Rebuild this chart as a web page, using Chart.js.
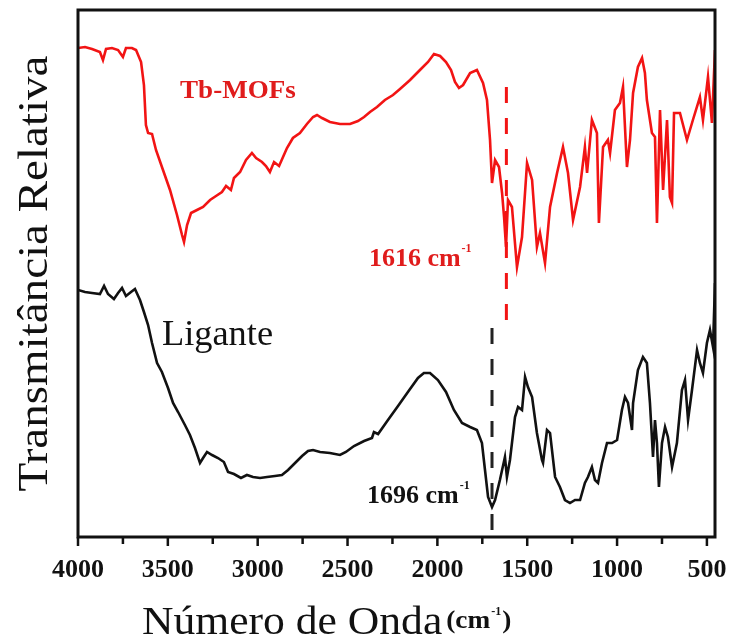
<!DOCTYPE html>
<html>
<head>
<meta charset="utf-8">
<script src="https://cdn.jsdelivr.net/npm/chart.js@4.4.0/dist/chart.umd.min.js"></script>
<style>
  html, body { margin: 0; padding: 0; background: #fff; }
  #spectra { display: block; }
</style>
</head>
<body>
<canvas id="spectra" width="729" height="642"></canvas>
<script>
// FTIR spectra: wavenumber (cm-1) vs relative transmittance (arbitrary units)
const mofWavenumber = [4000, 3961, 3922, 3878, 3861, 3844, 3811, 3777, 3750, 3733, 3700, 3677, 3649, 3633, 3622, 3610,
  3588, 3566, 3527, 3488, 3449, 3421, 3410, 3393, 3371, 3338, 3304, 3265, 3232, 3199, 3176, 3149, 3132, 3098, 3065,
  3032, 3009, 2976, 2954, 2932, 2909, 2881, 2859, 2837, 2804, 2765, 2726, 2692, 2670, 2642, 2598, 2542, 2486, 2442,
  2408, 2375, 2336, 2292, 2247, 2208, 2152, 2097, 2052, 2019, 1985, 1952, 1924, 1902, 1880, 1857, 1818, 1780, 1746,
  1724, 1707, 1696, 1679, 1657, 1640, 1629, 1618, 1607, 1585, 1557, 1529, 1501, 1473, 1446, 1429, 1401, 1373, 1334,
  1301, 1273, 1245, 1206, 1179, 1167, 1140, 1112, 1101, 1078, 1051, 1039, 1012, 984, 967, 945, 928, 911, 884, 861,
  845, 834, 806, 789, 778, 761, 744, 722, 706, 694, 683, 650, 611, 578, 539, 522, 494, 472, 455];
const mofTransmittance = [97.8, 98.0, 97.6, 97.0, 95.4, 97.6, 97.8, 97.4, 96.0, 97.8, 97.8, 97.4, 95.0, 90.4, 82.4, 80.8,
  80.6, 77.4, 73.4, 69.4, 64.4, 60.4, 59.0, 62.4, 64.8, 65.4, 66.0, 67.4, 68.2, 69.0, 70.2, 69.4, 71.8, 73.0, 75.4,
  76.8, 75.8, 75.0, 74.2, 73.0, 75.0, 74.2, 76.0, 77.8, 79.8, 80.8, 82.6, 84.0, 84.4, 83.8, 83.0, 82.6, 82.6, 83.2,
  84.0, 85.0, 86.0, 87.4, 88.4, 89.6, 91.4, 93.4, 95.0, 96.6, 96.2, 95.0, 93.4, 91.0, 89.8, 90.4, 92.8, 93.4, 90.8,
  87.4, 79.4, 70.8, 75.4, 74.0, 68.8, 64.0, 58.0, 67.4, 66.0, 54.0, 60.0, 74.8, 71.4, 58.0, 60.8, 54.8, 66.0, 72.8,
  78.0, 72.8, 63.4, 70.0, 78.0, 72.8, 83.4, 80.8, 62.8, 78.0, 79.4, 76.8, 85.4, 86.8, 90.0, 74.0, 79.4, 88.8, 94.0, 95.8,
  92.8, 87.4, 80.8, 80.0, 62.8, 85.4, 69.4, 83.4, 68.0, 66.8, 84.8, 84.8, 79.4, 83.4, 88.0, 83.4, 92.0, 82.8, 97.4];

const ligandWavenumber = [4000, 3961, 3922, 3878, 3855, 3833, 3800, 3777, 3755, 3733, 3705, 3683, 3655, 3633, 3610,
  3588, 3560, 3533, 3499, 3471, 3443, 3405, 3377, 3349, 3321, 3304, 3282, 3254, 3221, 3188, 3165, 3132, 3093, 3060,
  3026, 2987, 2948, 2904, 2865, 2831, 2792, 2753, 2720, 2692, 2653, 2598, 2542, 2509, 2464, 2408, 2364, 2353, 2330,
  2275, 2219, 2164, 2108, 2075, 2041, 1997, 1952, 1908, 1863, 1818, 1780, 1752, 1735, 1718, 1696, 1679, 1652, 1624,
  1613, 1596, 1568, 1551, 1529, 1512, 1496, 1473, 1446, 1418, 1412, 1390, 1373, 1345, 1318, 1290, 1262, 1234, 1206,
  1179, 1162, 1140, 1123, 1106, 1084, 1056, 1028, 1000, 973, 956, 939, 917, 911, 884, 856, 834, 817, 800, 789, 778,
  767, 750, 733, 717, 694, 667, 639, 622, 605, 583, 555, 539, 522, 500, 483, 466, 455];
const ligandTransmittance = [49.4, 49.0, 48.8, 48.6, 50.2, 48.6, 47.6, 48.8, 49.8, 48.2, 49.0, 49.6, 47.4, 45.0, 42.4,
  38.8, 34.8, 33.0, 29.8, 26.8, 25.0, 22.4, 20.4, 17.8, 14.8, 15.8, 17.0, 16.4, 15.8, 15.0, 13.0, 12.6, 11.8, 12.4,
  12.0, 11.8, 12.0, 12.2, 12.4, 13.4, 14.8, 16.2, 17.2, 17.4, 17.0, 16.8, 16.4, 17.0, 18.2, 19.2, 19.8, 21.0, 20.6,
  23.4, 26.2, 29.0, 31.8, 32.8, 32.8, 31.4, 29.0, 25.4, 22.8, 22.0, 21.4, 18.8, 13.4, 8.0, 6.0, 7.4, 11.4, 16.0,
  12.0, 15.4, 24.0, 26.0, 25.4, 32.0, 30.0, 28.0, 20.8, 15.4, 14.8, 21.4, 20.8, 12.0, 10.0, 7.4, 6.8, 7.4, 7.4,
  10.8, 12.0, 14.0, 11.4, 10.8, 14.8, 18.8, 18.8, 19.4, 25.4, 28.0, 26.8, 21.4, 26.8, 33.4, 36.0, 34.8, 26.8, 16.0,
  23.4, 18.8, 10.0, 18.8, 22.0, 20.0, 14.0, 18.8, 29.4, 31.4, 23.4, 29.4, 37.4, 34.8, 32.8, 38.8, 41.4, 38.0, 50.8];

const xTickValues = [4000, 3500, 3000, 2500, 2000, 1500, 1000, 500];
const xMinorTicks = [3750, 3250, 2750, 2250, 1750, 1250, 750];

// marked bands and the span of their dashed guides
const mofBand = 1616;
const mofBandSpan = [43.4, 91.4];
const ligandBand = 1696;
const ligandBandSpan = [1.4, 42.0];

const RED = '#f21414';
const INK = '#111111';
const SERIF = '"Liberation Serif", "Times New Roman", serif';

function toPoints(xs, ys) {
  return xs.map((x, i) => ({ x: x, y: ys[i] }));
}

// text labels placed at (wavenumber, transmittance)
const notes = [
  { text: 'Tb-MOFs', x: 3432, y: 87.8, font: 'bold 26px ' + SERIF, color: '#e01c1c' },
  { text: mofBand + ' cm', sup: '-1', x: 2381, y: 54.2, font: 'bold 25px ' + SERIF, color: '#e01c1c' },
  { text: 'Ligante', x: 3533, y: 38.4, font: '35px ' + SERIF, color: INK },
  { text: ligandBand + ' cm', sup: '-1', x: 2392, y: 6.8, font: 'bold 25px ' + SERIF, color: INK }
];

function putText(ctx, text, x, y, font, color, sx) {
  ctx.save();
  ctx.font = font;
  ctx.fillStyle = color;
  ctx.textAlign = 'left';
  ctx.textBaseline = 'alphabetic';
  ctx.translate(x, y);
  ctx.scale(sx, 1);
  ctx.fillText(text, 0, 0);
  const w = ctx.measureText(text).width * sx;
  ctx.restore();
  return w;
}

const framePlugin = {
  id: 'frame',
  afterDraw(chart) {
    const ctx = chart.ctx;
    const a = chart.chartArea;
    const xs = chart.scales.x;
    const ys = chart.scales.y;

    ctx.save();
    ctx.strokeStyle = INK;
    ctx.lineWidth = 3;
    ctx.strokeRect(a.left, a.top, a.right - a.left, a.bottom - a.top);

    ctx.lineWidth = 2.5;
    ctx.beginPath();
    xTickValues.forEach(v => {
      const px = xs.getPixelForValue(v);
      ctx.moveTo(px, a.bottom);
      ctx.lineTo(px, a.bottom + 9);
    });
    xMinorTicks.forEach(v => {
      const px = xs.getPixelForValue(v);
      ctx.moveTo(px, a.bottom);
      ctx.lineTo(px, a.bottom + 7);
    });
    ctx.stroke();
    ctx.restore();

    // annotations
    notes.forEach(n => {
      const px = xs.getPixelForValue(n.x);
      const py = ys.getPixelForValue(n.y);
      const w = putText(ctx, n.text, px, py, n.font, n.color, 1.04);
      if (n.sup) putText(ctx, n.sup, px + w + 1, py - 14, 'bold 12px ' + SERIF, n.color, 1);
    });

    // x axis title
    const tx = a.left + 64;
    const ty = 634;
    let w = putText(ctx, 'Número de Onda', tx, ty, '40px ' + SERIF, INK, 1.09);
    w += putText(ctx, '(cm', tx + w + 4, ty - 6, 'bold 26px ' + SERIF, INK, 1.05);
    const sw = putText(ctx, '-1', tx + w + 5, ty - 19, 'bold 12px ' + SERIF, INK, 1);
    putText(ctx, ')', tx + w + 6 + sw, ty - 6, 'bold 26px ' + SERIF, INK, 1.05);

    // y axis title
    ctx.save();
    ctx.font = '42px ' + SERIF;
    ctx.fillStyle = INK;
    ctx.textAlign = 'center';
    ctx.textBaseline = 'alphabetic';
    ctx.translate(a.left - 31, (a.top + a.bottom) / 2);
    ctx.rotate(-Math.PI / 2);
    ctx.scale(1.12, 1);
    ctx.fillText('Transmitância Relativa', 0, 0);
    ctx.restore();
  }
};

new Chart(document.getElementById('spectra'), {
  type: 'line',
  data: {
    datasets: [
      { data: toPoints(mofWavenumber, mofTransmittance), borderColor: RED, borderWidth: 2.6 },
      { data: toPoints(ligandWavenumber, ligandTransmittance), borderColor: INK, borderWidth: 2.6 },
      { data: mofBandSpan.map(t => ({ x: mofBand, y: t })), borderColor: RED, borderWidth: 3, borderDash: [16, 15] },
      { data: ligandBandSpan.map(t => ({ x: ligandBand, y: t })), borderColor: '#222', borderWidth: 3, borderDash: [16, 15] }
    ]
  },
  options: {
    responsive: false,
    animation: false,
    devicePixelRatio: 1,
    elements: { point: { radius: 0 }, line: { tension: 0 } },
    layout: { padding: { left: 78, top: 10, right: 14, bottom: 56 } },
    plugins: { legend: { display: false }, tooltip: { enabled: false } },
    scales: {
      x: {
        type: 'linear',
        reverse: true,
        min: 455,
        max: 4000,
        grid: { display: false, drawTicks: false },
        border: { display: false },
        afterBuildTicks: s => { s.ticks = xTickValues.map(v => ({ value: v })); },
        afterFit: s => { s.height = 49; s.paddingLeft = 0; s.paddingRight = 0; },
        ticks: {
          maxRotation: 0,
          padding: 18,
          color: INK,
          font: { family: SERIF, weight: 'bold', size: 26 },
          callback: v => String(v)
        }
      },
      y: { display: false, min: 0, max: 105.4 }
    }
  },
  plugins: [framePlugin]
});
</script>
</body>
</html>
